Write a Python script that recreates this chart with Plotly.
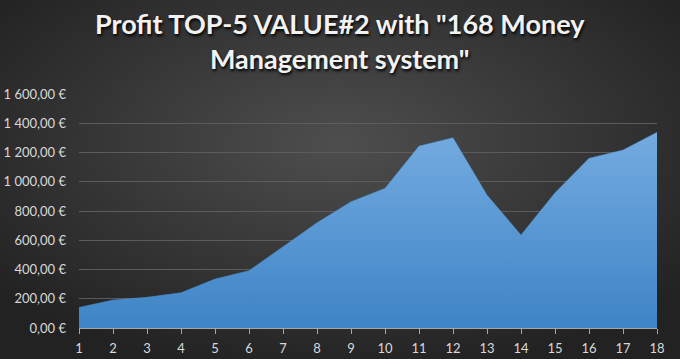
import plotly.graph_objects as go

periods = list(range(1, 19))
profit = [141, 191, 210, 241, 335, 392, 556, 720, 864, 955, 1244, 1301,
          909, 636, 925, 1160, 1217, 1338]
y_ticks = [0, 200, 400, 600, 800, 1000, 1200, 1400, 1600]
y_tick_labels = ["0,00 €", "200,00 €", "400,00 €", "600,00 €", "800,00 €",
                 "1 000,00 €", "1 200,00 €", "1 400,00 €", "1 600,00 €"]
title_text = 'Profit TOP-5 VALUE#2 with "168 Money<br>Management system"'

W, H = 680, 359
L, R, T, B = 79, 23, 94, 31
pw, ph = W - L - R, H - T - B

bg_svg = (
    "data:image/svg+xml;utf8,"
    "<svg xmlns='http://www.w3.org/2000/svg' width='680' height='359'>"
    "<defs><radialGradient id='g' cx='50%' cy='40%' r='65%'>"
    "<stop offset='0%' stop-color='%234e4e4e'/>"
    "<stop offset='100%' stop-color='%23222222'/>"
    "</radialGradient></defs>"
    "<rect width='680' height='359' fill='url(%23g)'/></svg>"
)

fig = go.Figure()
fig.add_trace(go.Scatter(
    x=periods, y=profit, mode="lines",
    line=dict(width=0.5, color="#4a8fd0"),
    fill="tozeroy",
    fillgradient=dict(type="vertical",
                      colorscale=[[0, "#3e84c6"], [1, "#74abe0"]]),
    hoverinfo="skip",
))

fig.update_layout(
    width=W, height=H,
    margin=dict(l=L, r=R, t=T, b=B, autoexpand=False),
    paper_bgcolor="#262626",
    plot_bgcolor="rgba(0,0,0,0)",
    showlegend=False,
    images=[dict(source=bg_svg, xref="paper", yref="paper",
                 x=-L / pw, y=1 + T / ph, sizex=W / pw, sizey=H / ph,
                 xanchor="left", yanchor="top",
                 layer="below", sizing="stretch")],
    annotations=[dict(text="<b>" + title_text + "</b>", xref="paper", yref="paper",
                      x=(W / 2 - L) / pw, y=1 + (T - 41) / ph,
                      xanchor="center", yanchor="middle", showarrow=False,
                      font=dict(family="Lato", size=27, color="#f2f2f2",
                                shadow="1px 2px 3px #000000"))],
    xaxis=dict(range=[1, 18], tickmode="array", tickvals=periods,
               showgrid=False, zeroline=False,
               showline=True, linecolor="#a6a6a6", linewidth=1,
               ticks="outside", ticklen=5, tickcolor="#a6a6a6",
               ticklabelstandoff=3,
               tickfont=dict(family="Lato", size=13, color="#d9d9d9")),
    yaxis=dict(range=[0, 1600], tickmode="array", tickvals=y_ticks,
               ticktext=y_tick_labels, showgrid=True, gridcolor="#5c5c5c",
               gridwidth=1, zeroline=False, showline=False,
               ticks="", ticklabelstandoff=12,
               tickfont=dict(family="Lato", size=13, color="#d9d9d9")),
)
fig.update_xaxes(layer="above traces")

fig.write_html("out.html", config={"displayModeBar": False},
               post_script="document.body.style.margin='0';document.body.style.padding='0';document.body.style.overflow='hidden';")
